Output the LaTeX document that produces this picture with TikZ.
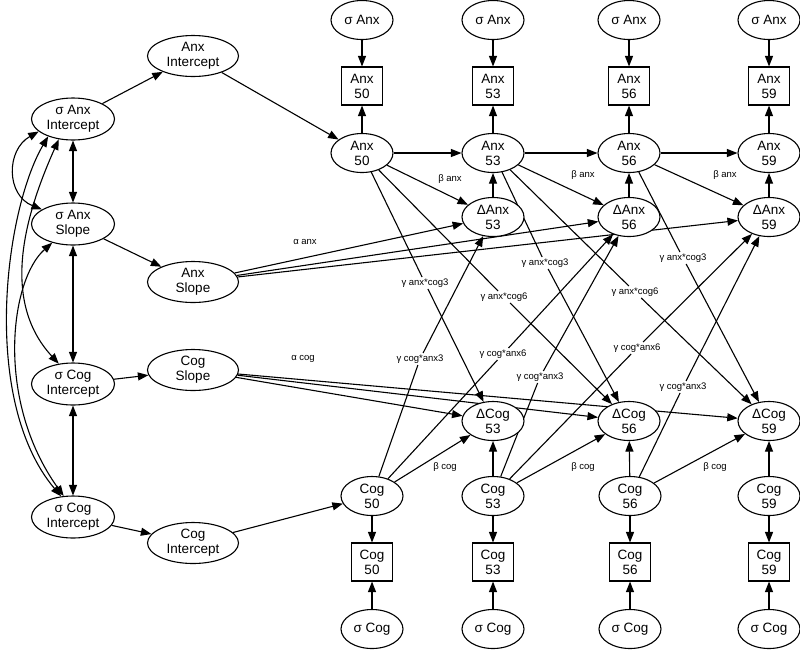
\documentclass[tikz,border=0pt]{standalone}
\usepackage{fontspec}
\setmainfont{Liberation Sans}
\usetikzlibrary{shapes.geometric,arrows.meta}
\pgfdeclarelayer{bg}
\pgfsetlayers{bg,main}
\tikzset{
 base/.style={draw, line width=1.1pt, fill=white, font=\fontsize{13.5}{15}\selectfont, align=center, inner sep=0pt},
 bigl/.style={base, ellipse, minimum width=83pt, minimum height=42pt},
 bigm/.style={base, ellipse, minimum width=91pt, minimum height=41pt},
 lat/.style={base, ellipse, minimum width=62pt, minimum height=39pt},
 obs/.style={base, rectangle, minimum width=41pt, minimum height=38pt},
 lab/.style={font=\fontsize{9.5}{11}\selectfont, inner sep=1.5pt},
 arr/.style={-{Triangle[length=10.5pt,width=8pt]}, line width=1.1pt},
 darr/.style={{Triangle[length=10.5pt,width=8pt]}-{Triangle[length=10.5pt,width=8pt]}, line width=1.1pt},
 ln/.style={line width=1.1pt}
}
\begin{document}
\begin{tikzpicture}[x=1pt,y=-1pt]
\useasboundingbox (0,0) rectangle (800,649);
% left nodes
\node[bigl] (sAI) at (73,119) {σ Anx\\Intercept};
\node[bigl] (sAS) at (73,224) {σ Anx\\Slope};
\node[bigl] (sCS) at (73,384) {σ Cog\\Intercept};
\node[bigl] (sCI) at (73,517) {σ Cog\\Intercept};
\node[bigm] (AI) at (193,56) {Anx\\Intercept};
\node[bigm] (AS) at (193,282) {Anx\\Slope};
\node[bigm] (CS) at (193,370) {Cog\\Slope};
\node[bigm] (CI) at (193,543) {Cog\\Intercept};
% anx columns
\foreach \n/\x in {50/362,53/493,56/629,59/769}{
  \node[lat] (sA\n) at (\x,20) {σ Anx};
  \node[obs] (bA\n) at (\x,86) {Anx\\\n};
  \node[lat] (A\n) at (\x,153) {Anx\\\n};
}
\foreach \n/\x in {53/493,56/629,59/769}{
  \node[lat] (dA\n) at (\x,217) {ΔAnx\\\n};
  \node[lat] (dC\n) at (\x,421) {ΔCog\\\n};
}
\foreach \n/\x in {50/372,53/493,56/630,59/769}{
  \node[lat] (C\n) at (\x,496) {Cog\\\n};
  \node[obs] (bC\n) at (\x,562) {Cog\\\n};
  \node[lat] (sC\n) at (\x,629) {σ Cog};
}
% labels
\node[lab] (la) at (305,242) {α anx};
\node[lab] (lc) at (303,359) {α cog};
\node[lab] (ba1) at (450,179) {β anx};
\node[lab] (ba2) at (583,175) {β anx};
\node[lab] (ba3) at (725,175) {β anx};
\node[lab] (bc1) at (445,467) {β cog};
\node[lab] (bc2) at (583,467) {β cog};
\node[lab] (bc3) at (715,467) {β cog};
\node[lab] (g1) at (425,283) {γ anx*cog3};
\node[lab] (g2) at (504,297) {γ anx*cog6};
\node[lab] (g3) at (545,263) {γ anx*cog3};
\node[lab] (g4) at (635,292) {γ anx*cog6};
\node[lab] (g5) at (683,258) {γ anx*cog3};
\node[lab] (h1) at (420,359) {γ cog*anx3};
\node[lab] (h2) at (503,354) {γ cog*anx6};
\node[lab] (h3) at (540,377) {γ cog*anx3};
\node[lab] (h4) at (637,348) {γ cog*anx6};
\node[lab] (h5) at (683,387) {γ cog*anx3};
\begin{pgfonlayer}{bg}
% left structure
\draw[arr] (sAI) -- (AI);
\draw[arr] (AI) -- (A50);
\draw[arr] (sAS) -- (AS);
\draw[arr] (sCS) -- (CS);
\draw[arr] (sCI) -- (CI);
\draw[arr] (CI) -- (C50);
\draw[darr] (sAI) -- (sAS);
\draw[darr] (sAS) -- (sCS);
\draw[darr] (sCS) -- (sCI);
\draw[darr] (sAI.200) .. controls (6,150) and (6,195) .. (sAS.155);
\draw[darr] (sAI.235) .. controls (25,215) and (0,300) .. (sCS.125);
\draw[darr] (sAI.215) .. controls (5,210) and (-20,400) .. (sCI.120);
\draw[darr] (sAS.222) .. controls (10,280) and (-5,400) .. (sCI.114);
% columns
\foreach \n in {50,53,56,59}{
  \draw[arr] (sA\n) -- (bA\n);
  \draw[arr] (A\n) -- (bA\n);
  \draw[arr] (sC\n) -- (bC\n);
  \draw[arr] (C\n) -- (bC\n);
}
\foreach \n in {53,56,59}{
  \draw[arr] (dA\n) -- (A\n);
  \draw[arr] (C\n) -- (dC\n);
  \draw[arr] (AS) -- (dA\n);
  \draw[arr] (CS) -- (dC\n);
}
\foreach \a/\b in {50/53,53/56,56/59}{
  \draw[arr] (A\a) -- (A\b);
  \draw[arr] (A\a) -- (dA\b);
  \draw[arr] (C\a) -- (dC\b);
}
% cross-lagged
\foreach \s/\l/\t in {A50/g1/dC53, A50/g2/dC56, A53/g3/dC56, A53/g4/dC59, A56/g5/dC59,
                      C50/h1/dA53, C50/h2/dA56, C53/h3/dA56, C53/h4/dA59, C56/h5/dA59}{
  \draw[ln] (\s) -- (\l);
  \draw[arr] (\l) -- (\t);
}
\end{pgfonlayer}
\end{tikzpicture}
\end{document}
